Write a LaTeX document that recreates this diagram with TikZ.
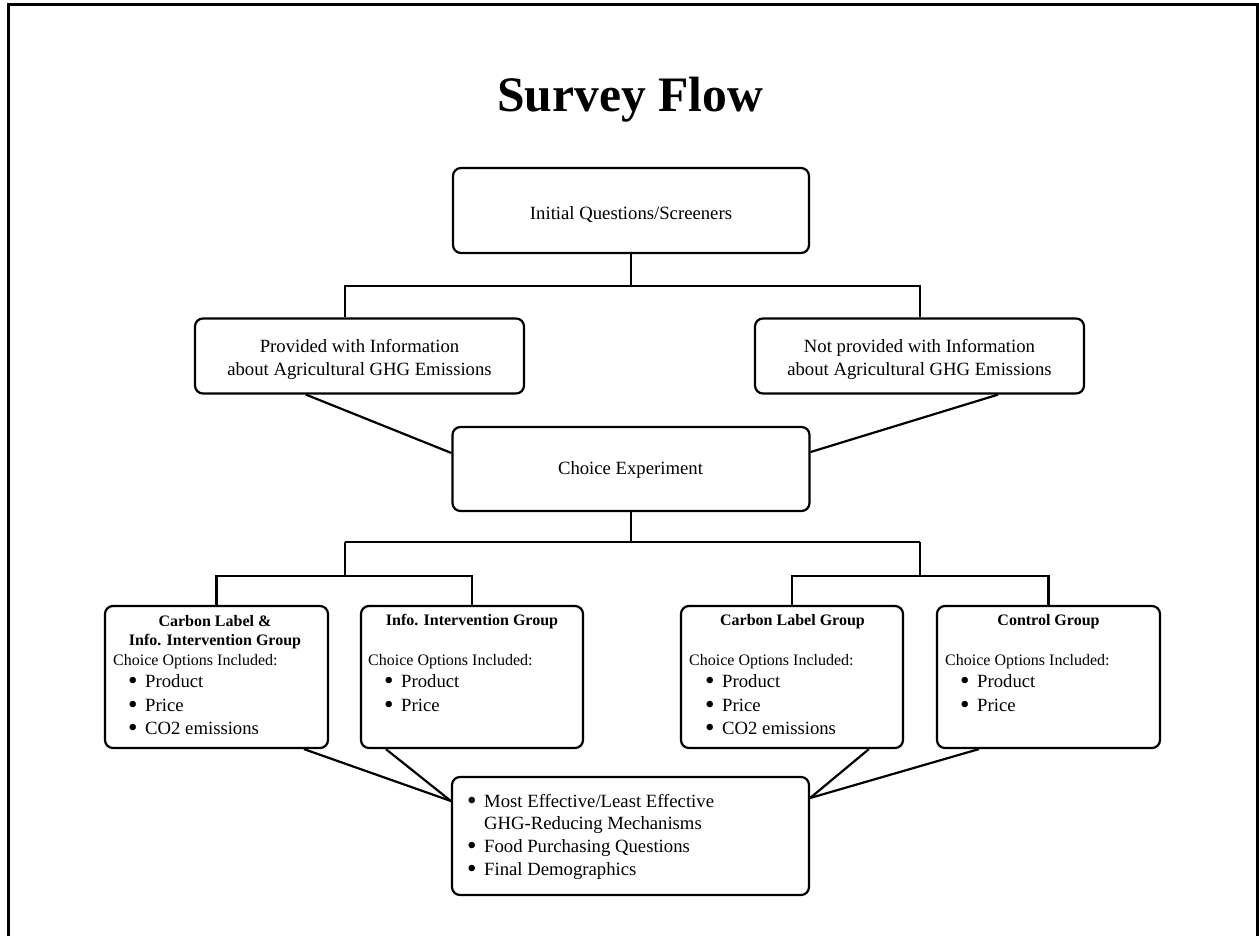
\documentclass[tikz,border=0pt]{standalone}
\usepackage{fontspec}
\setmainfont{Liberation Serif}
\usetikzlibrary{calc}
\newcommand{\bigbul}{\makebox[17pt][l]{\smash{\raisebox{-2.6pt}{\scalebox{1.45}{•}}}}}
\begin{document}
\begin{tikzpicture}[x=1pt,y=-1pt,
  fbox/.style={draw, line width=2.2pt, rounded corners=8pt, inner sep=0pt, fill=white},
  conn/.style={line width=2.2pt},
  txt/.style={inner sep=0pt, font=\fontsize{18.7}{22}\selectfont},
  small/.style={inner sep=0pt, font=\fontsize{16}{19}\selectfont},
  bsmall/.style={inner sep=0pt, font=\fontsize{16}{19}\selectfont\bfseries},
  ttl/.style={inner sep=0pt, font=\fontsize{49.6}{56}\selectfont\bfseries},
  bul/.style={txt, anchor=base west}
]
\useasboundingbox (0,0) rectangle (1259,936);
% outer frame (bottom edge lies beyond the picture)
\draw[line width=3pt] (8,940) -- (8,5) -- (1257.5,5) -- (1257.5,940);

% title
\node[ttl, anchor=base] (title) at (630,112) {Survey Flow};

% boxes
\node[fbox, minimum width=356pt, minimum height=85pt] (init) at (631,210.5) {};
\node[fbox, minimum width=329pt, minimum height=75pt] (prov) at (359.5,356) {};
\node[fbox, minimum width=329pt, minimum height=75pt] (notprov) at (919.5,356) {};
\node[fbox, minimum width=357pt, minimum height=84pt] (choice) at (631,469) {};
\node[fbox, minimum width=223pt, minimum height=142pt] (b1) at (216.5,677) {};
\node[fbox, minimum width=222pt, minimum height=142pt] (b2) at (472,677) {};
\node[fbox, minimum width=222pt, minimum height=142pt] (b3) at (792,677) {};
\node[fbox, minimum width=223pt, minimum height=142pt] (b4) at (1048.5,677) {};
\node[fbox, minimum width=357pt, minimum height=118pt] (final) at (630.5,836) {};

% texts
\node[txt, anchor=base] (initT) at (631,220) {Initial Questions/Screeners};
\node[txt, anchor=base] (provT1) at (359.5,352) {Provided with Information};
\node[txt, anchor=base] (provT2) at (359.5,375) {about Agricultural GHG Emissions};
\node[txt, anchor=base] (notprovT1) at (919.5,352) {Not provided with Information};
\node[txt, anchor=base] (notprovT2) at (919.5,375) {about Agricultural GHG Emissions};
\node[txt, anchor=base] (choiceT) at (630.5,474) {Choice Experiment};

% box 1
\node[bsmall, anchor=base] (b1h1) at (215,626) {Carbon Label \&};
\node[bsmall, anchor=base] (b1h2) at (215,645) {Info. Intervention Group};
\node[small, anchor=base west] (b1c) at (113,665) {Choice Options Included:};
\node[bul] (b1i1) at (128,687) {\bigbul Product};
\node[bul] (b1i2) at (128,711) {\bigbul Price};
\node[bul] (b1i3) at (128,734) {\bigbul CO2 emissions};
% box 2
\node[bsmall, anchor=base] (b2h1) at (472,625) {Info. Intervention Group};
\node[small, anchor=base west] (b2c) at (368,665) {Choice Options Included:};
\node[bul] (b2i1) at (384,687) {\bigbul Product};
\node[bul] (b2i2) at (384,711) {\bigbul Price};
% box 3
\node[bsmall, anchor=base] (b3h1) at (792.5,625) {Carbon Label Group};
\node[small, anchor=base west] (b3c) at (689,665) {Choice Options Included:};
\node[bul] (b3i1) at (705,687) {\bigbul Product};
\node[bul] (b3i2) at (705,711) {\bigbul Price};
\node[bul] (b3i3) at (705,734) {\bigbul CO2 emissions};
% box 4
\node[bsmall, anchor=base] (b4h1) at (1048.5,625) {Control Group};
\node[small, anchor=base west] (b4c) at (945,665) {Choice Options Included:};
\node[bul] (b4i1) at (960,687) {\bigbul Product};
\node[bul] (b4i2) at (960,711) {\bigbul Price};
% final box
\node[bul] (f1) at (467,807) {\bigbul Most Effective/Least Effective};
\node[bul] (f2) at (484,829) {GHG-Reducing Mechanisms};
\node[bul] (f3) at (467,852) {\bigbul Food Purchasing Questions};
\node[bul] (f4) at (467,875) {\bigbul Final Demographics};

% junction coordinates
\coordinate (j1) at (631,286);
\coordinate (j2) at (631,542);
\coordinate (jl) at (345,542);
\coordinate (jr) at (920,542);
\coordinate (jl2) at (345,576);
\coordinate (jr2) at (920,576);
\coordinate (pl) at (345,286);
\coordinate (pr) at (920,286);

% tree connectors
\draw[conn] (init.south) -- (j1);
\draw[conn] (prov.north -| pl) -- (pl) -- (pr) -- (notprov.north -| pr);
\draw[conn] (choice.south) -- (j2);
\draw[conn] (jl) -- (jr);
\draw[conn] (jl) -- (jl2);
\draw[conn] (jr) -- (jr2);
\draw[conn] (b1.north) -- (b1.north |- jl2) -- (b2.north |- jl2) -- (b2.north);
\draw[conn] (b3.north) -- (b3.north |- jr2) -- (b4.north |- jr2) -- (b4.north);

% slanted connectors
\draw[conn] ($(prov.south west)+(112,0)$) -- ($(choice.west)+(0,-16)$);
\draw[conn] ($(notprov.south east)+(-87,0)$) -- ($(choice.east)+(0,-17)$);
\draw[conn] ($(b1.south west)+(200,0)$) -- ($(final.west)+(0,-35)$);
\draw[conn] ($(b2.south west)+(26,0)$) -- ($(final.west)+(0,-35)$);
\draw[conn] ($(b3.south west)+(189,0)$) -- ($(final.east)+(0,-38)$);
\draw[conn] ($(b4.south west)+(43,0)$) -- ($(final.east)+(0,-38)$);
\end{tikzpicture}
\end{document}
